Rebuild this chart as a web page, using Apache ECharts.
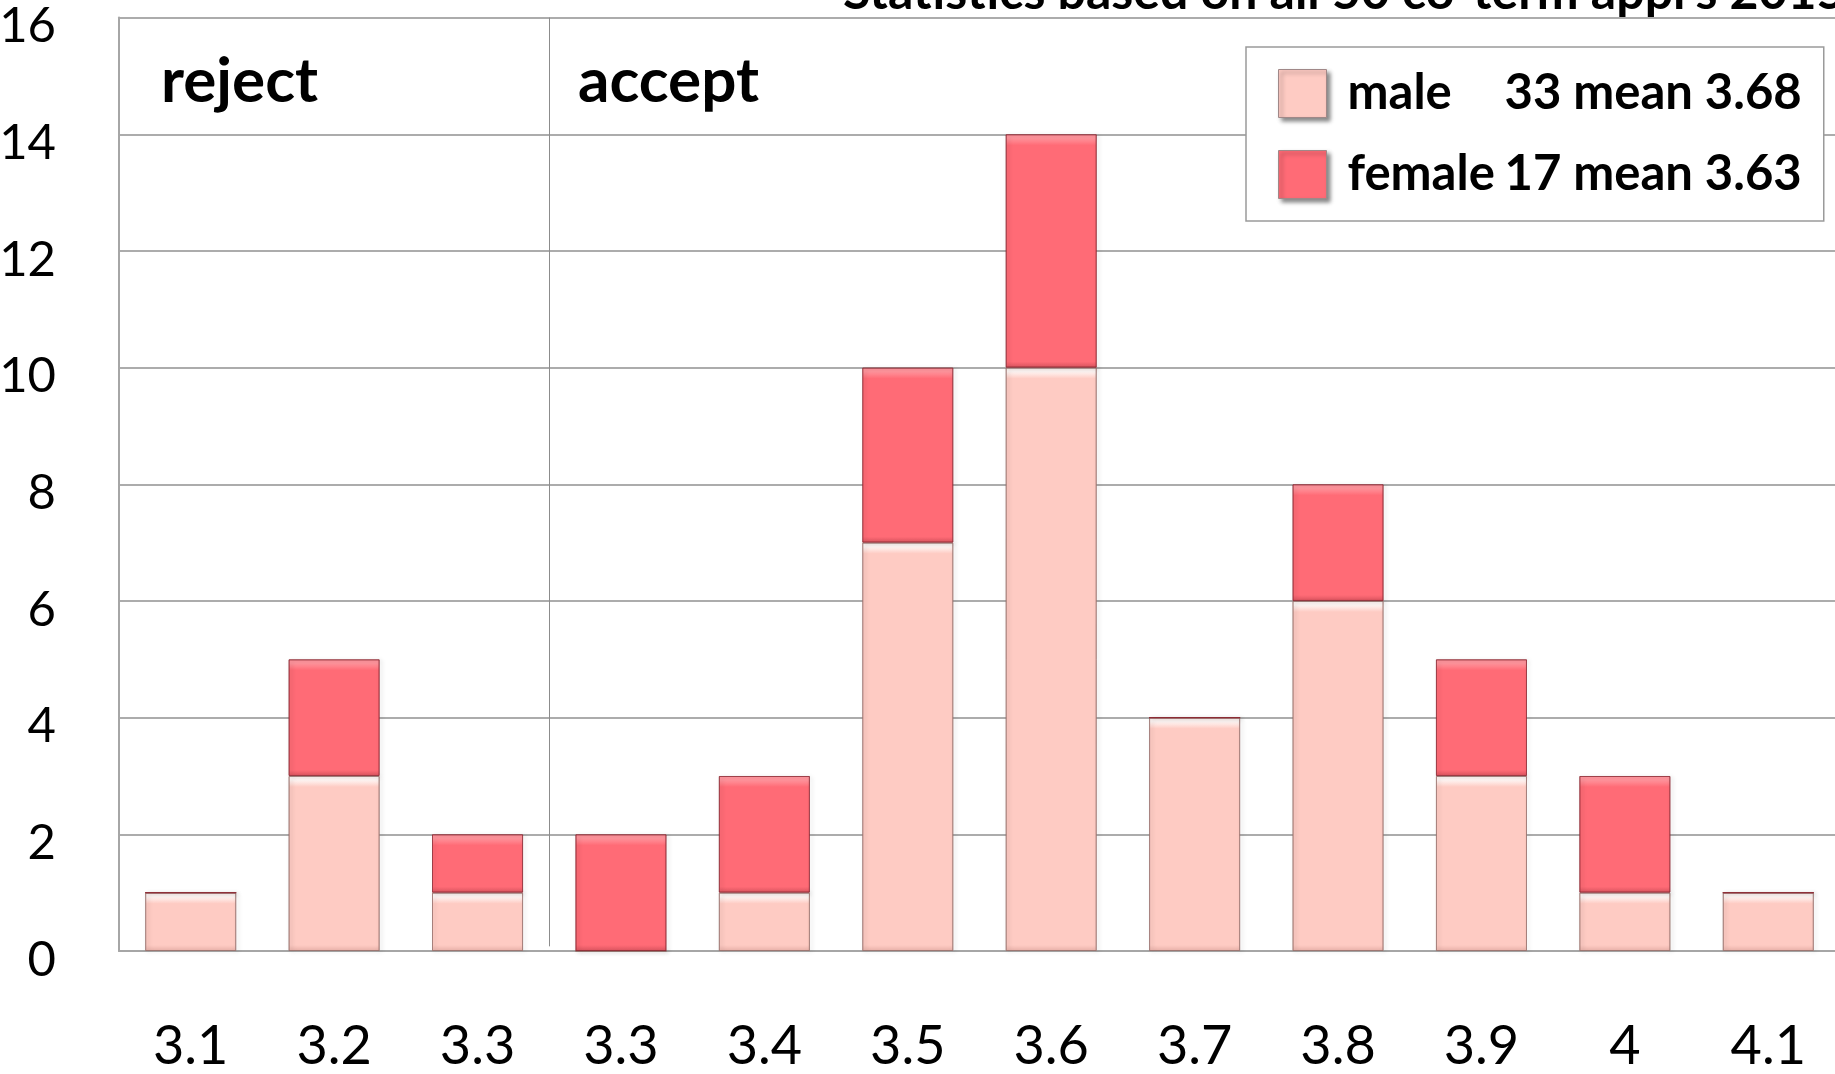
<!DOCTYPE html>
<html>
<head>
<meta charset="utf-8">
<script src="https://cdn.jsdelivr.net/npm/echarts@6/dist/echarts.min.js"></script>
<style>
html,body{margin:0;padding:0;background:#fff;}
#chart{width:1835px;height:1074px;}
</style>
</head>
<body>
<div id="chart"></div>
<script>
// ---- data ----
const categories = ['3.1','3.2','3.3','3.3','3.4','3.5','3.6','3.7','3.8','3.9','4','4.1'];
const maleValues   = [1, 3, 1, 0, 1, 7, 10, 4, 6, 3, 1, 1];
const femaleValues = [0, 2, 1, 2, 2, 3, 4, 0, 2, 2, 2, 0];
const seriesNames  = ['male', 'female'];
const legendStats  = ['33 mean 3.68', '17 mean 3.63'];
const yTicks = [0, 2, 4, 6, 8, 10, 12, 14, 16];
const groupLabels = ['reject', 'accept'];
const titleText = "Statistics based on all 50 co-term appl's 2015";

const FONT = 'Lato, "Open Sans", sans-serif';
const chart = echarts.init(document.getElementById('chart'), null, {renderer: 'canvas'});

const GRID_TOP = 17.6, GRID_H = 933.4, Y_MAX = 16;
const pxPerUnit = GRID_H / Y_MAX;

// bevel-like vertical gradient per segment (top highlight, slightly darker bottom)
function bevel(value, hi, base, low) {
  const h = Math.max(value * pxPerUnit, 1);
  const a = Math.min(4 / h, 0.3), b = Math.min(11 / h, 0.45), c = Math.max(1 - 6 / h, 0.55);
  return new echarts.graphic.LinearGradient(0, 0, 0, 1, [
    {offset: 0, color: hi},
    {offset: a, color: hi},
    {offset: b, color: base},
    {offset: c, color: base},
    {offset: 1, color: low}
  ]);
}
function buildItems(values, hi, base, low) {
  return values.map(v => ({value: v, itemStyle: {color: bevel(v, hi, base, low)}}));
}

const statMap = {};
seriesNames.forEach((n, i) => statMap[n] = legendStats[i]);

const option = {
  animation: false,
  backgroundColor: '#ffffff',
  grid: {left: 119, top: GRID_TOP, width: 1721, height: GRID_H, containLabel: false, outerBoundsMode: 'none'},
  legend: {
    data: seriesNames,
    orient: 'vertical',
    left: 1246,
    top: 47,
    padding: [22, 22, 22, 32],
    itemWidth: 48,
    itemHeight: 48,
    itemGap: 32,
    icon: 'rect',
    borderColor: '#9a9a9a',
    borderWidth: 1.5,
    backgroundColor: '#fff',
    itemStyle: {
      borderColor: '#a08888', borderWidth: 1,
      shadowBlur: 4, shadowOffsetX: 3, shadowOffsetY: 3, shadowColor: 'rgba(0,0,0,0.45)'
    },
    formatter: name => '{n|' + name + '}{s|' + statMap[name] + '}',
    textStyle: {
      fontFamily: FONT, fontWeight: 'bold', fontSize: 49, color: '#000',
      padding: [0, 0, 0, 16],
      rich: {
        n: {width: 157, fontFamily: FONT, fontWeight: 'bold', fontSize: 49, color: '#000'},
        s: {fontFamily: FONT, fontWeight: 'bold', fontSize: 49, color: '#000'}
      }
    }
  },
  xAxis: {
    type: 'category',
    data: categories,
    axisLine: {show: true, lineStyle: {color: '#a6a6a6', width: 2}},
    axisTick: {show: false},
    axisLabel: {fontFamily: FONT, fontSize: 54, color: '#000', margin: 69, interval: 0}
  },
  yAxis: {
    type: 'value',
    min: 0, max: Y_MAX, interval: 2,
    axisLine: {show: true, lineStyle: {color: '#a6a6a6', width: 2}},
    axisTick: {show: false},
    splitLine: {show: true, lineStyle: {color: '#acacac', width: 2}},
    axisLabel: {
      fontFamily: FONT, fontSize: 49, color: '#000', margin: 63,
      verticalAlign: 'top', lineHeight: 18,
      formatter: v => yTicks.indexOf(v) >= 0 ? String(v) : ''
    }
  },
  series: [
    {
      name: seriesNames[0], type: 'bar', stack: 'total',
      data: buildItems(maleValues, '#fff6f4', '#FECBC3', '#ebb3ab'),
      barCategoryGap: '36.5%',
      itemStyle: {
        color: '#FECBC3',
        borderColor: 'rgba(150,110,105,0.6)', borderWidth: 1,
        shadowBlur: 4, shadowOffsetX: 2, shadowOffsetY: 1, shadowColor: 'rgba(0,0,0,0.25)'
      }
    },
    {
      name: seriesNames[1], type: 'bar', stack: 'total',
      data: buildItems(femaleValues, '#ff949c', '#FF6B76', '#dc5560'),
      barCategoryGap: '36.5%',
      itemStyle: {
        color: '#FF6B76',
        borderColor: 'rgba(140,40,50,0.6)', borderWidth: 1,
        shadowBlur: 4, shadowOffsetX: 2, shadowOffsetY: 1, shadowColor: 'rgba(0,0,0,0.25)'
      }
    }
  ]
};
chart.setOption(option);

function addGraphics() {
  const p2 = chart.convertToPixel({xAxisIndex: 0}, 2);
  const p3 = chart.convertToPixel({xAxisIndex: 0}, 3);
  const divX = Math.round((p2 + p3) / 2) + 0.5;
  const yTop = chart.convertToPixel({yAxisIndex: 0}, Y_MAX);
  const yBot = chart.convertToPixel({yAxisIndex: 0}, 0.08);
  chart.setOption({
    graphic: [
      {type: 'line', z: 1, shape: {x1: divX, y1: yTop, x2: divX, y2: yBot},
       style: {stroke: '#8c8c8c', lineWidth: 1}},
      {type: 'text', z: 10, x: 161, y: 113,
       style: {text: groupLabels[0], font: 'bold 62px ' + FONT, fill: '#000', textVerticalAlign: 'bottom', verticalAlign: 'bottom'}},
      {type: 'text', z: 10, x: 578, y: 113,
       style: {text: groupLabels[1], font: 'bold 62px ' + FONT, fill: '#000', textVerticalAlign: 'bottom', verticalAlign: 'bottom'}},
      {type: 'text', z: 10, x: 843, y: 18,
       style: {text: titleText, font: 'bold 50px ' + FONT, fill: '#000', textVerticalAlign: 'bottom', verticalAlign: 'bottom'}}
    ]
  });
}
addGraphics();
</script>
</body>
</html>
